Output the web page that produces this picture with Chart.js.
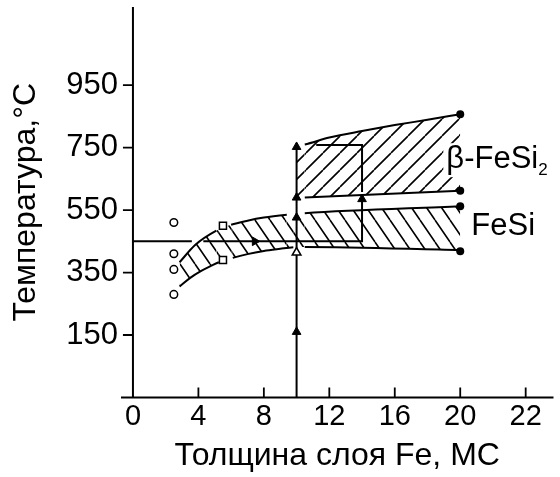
<!DOCTYPE html>
<html><head><meta charset="utf-8">
<script src="https://cdn.jsdelivr.net/npm/chart.js@4"></script>
<style>html,body{margin:0;padding:0;background:#fff}canvas{display:block}</style>
</head><body>
<canvas id="c" width="560" height="477"></canvas>
<script>
// ---------------- data ----------------
const xTickValues = [0, 4, 8, 12, 16, 20, 24];
const xTickLabels = ['0', '4', '8', '12', '16', '20', '22'];
const xAllTicks   = [0, 2, 4, 6, 8, 10, 12, 14, 16, 18, 20, 22, 24];
const yTickValues = [150, 350, 550, 750, 950];
const yTickLabels = ['150', '350', '550', '750', '950'];
const yAllTicks   = [50, 150, 250, 350, 450, 550, 650, 750, 850, 950, 1050];

// phase boundaries [thickness, temperature]
const fesiUpper = [[2.85,383],[3.8,438],[5.1,484],[6.0,503],[7.0,516],[8.0,526],[9.4,535],[10.5,540],[20,562]];
const fesiLower = [[2.85,305],[3.5,333],[4.2,356],[4.8,372],[5.25,383],[6.1,397],[7.0,409],[8.0,419],[9.0,426],[9.8,431],[10.5,432],[20,422]];
const betaUpper = [[10,755],[10.5,760],[12,782],[14,803],[16,822],[18,839],[20,857]];
const betaLower = [[10,589],[10.5,590],[20,612]];

// annealing paths
const vPath   = [[10,-50],[10,765]];
const hPath   = [[0,450],[3.6,450],[4.3,450],[14,450],[14,598]];
const boxPath = [[14,608],[14,758],[11.2,758]];

// markers
const arrowsUp    = [[10,160],[10,526],[10,590],[10,752],[14,585]];
const arrowsOpen  = [[10,414]];
const arrowsRight = [[7.45,450]];
const circlesOpen = [[2.5,510],[2.5,410],[2.5,360],[2.5,280]];
const squaresOpen = [[5.5,500],[5.5,390]];
const dotsFilled  = [[20,857],[20,612],[20,562],[20,418]];

const labelBeta = 'β-FeSi', labelBetaSub = '2', labelFeSi = 'FeSi';
const xTitle = 'Толщина слоя Fe, МС';
const yTitle = 'Температура,°C';

// ---------------- helpers ----------------
const F = "'Liberation Sans', Arial, Helvetica, sans-serif";
const pts = a => a.map(p => ({x: p[0], y: p[1]}));

function hatch(w, h, dir) {
  const c = document.createElement('canvas');
  c.width = w; c.height = h;
  const g = c.getContext('2d');
  g.strokeStyle = '#000'; g.lineWidth = 1.6;
  g.beginPath();
  for (const k of [-1, 0, 1]) {
    if (dir === 'down') { g.moveTo(k*w, 0); g.lineTo(k*w + w, h); }
    else { g.moveTo(k*w, h); g.lineTo(k*w + w, 0); }
  }
  g.stroke();
  return g.createPattern(c, 'repeat');
}
const gapSeg = gaps => ({
  borderColor: ctx => gaps.includes(ctx.p0.parsed.x) ? 'rgba(0,0,0,0)' : '#000'
});

const lineDs = (data, extra) => Object.assign({
  data: pts(data), showLine: true, borderColor: '#000', borderWidth: 2,
  pointRadius: 0, fill: false, tension: 0
}, extra || {});

const decor = {
  id: 'decor',
  afterDatasetsDraw(chart) {
    const {ctx, chartArea: a, scales: {x, y}} = chart;
    const x0 = x.getPixelForValue(0);
    ctx.save();
    ctx.strokeStyle = '#000';
    ctx.lineWidth = 2;
    ctx.beginPath();
    ctx.moveTo(a.left, a.bottom); ctx.lineTo(a.right, a.bottom);
    ctx.moveTo(x0, a.top); ctx.lineTo(x0, a.bottom + 1);
    ctx.stroke();
    ctx.lineWidth = 1.8;
    ctx.beginPath();
    y.ticks.forEach(t => {
      const py = y.getPixelForValue(t.value);
      const len = yTickValues.includes(t.value) ? 10 : 7;
      ctx.moveTo(x0 - len, py); ctx.lineTo(x0, py);
    });
    x.ticks.forEach(t => {
      if (t.value <= 0) return;
      const px = x.getPixelForValue(t.value);
      const len = xTickValues.includes(t.value) ? 10 : 6;
      ctx.moveTo(px, a.bottom); ctx.lineTo(px, a.bottom - len);
    });
    ctx.stroke();

    // region labels
    ctx.textAlign = 'left'; ctx.textBaseline = 'alphabetic';
    const bx = x.getPixelForValue(19.15), by = y.getPixelForValue(684);
    ctx.font = '31px ' + F; const w1 = ctx.measureText(labelBeta).width;
    ctx.font = '17px ' + F; const w2 = ctx.measureText(labelBetaSub).width;
    ctx.fillStyle = '#fff';
    ctx.fillRect(bx - 3, by - 25, w1 + w2 + 6, 34);
    ctx.fillStyle = '#000';
    ctx.font = '31px ' + F; ctx.fillText(labelBeta, bx, by);
    ctx.font = '17px ' + F; ctx.fillText(labelBetaSub, bx + w1, by + 7);
    ctx.font = '31px ' + F;
    ctx.fillText(labelFeSi, x.getPixelForValue(20.68), y.getPixelForValue(470));
    ctx.restore();
  }
};

new Chart(document.getElementById('c'), {
  type: 'scatter',
  data: {
    datasets: [
      {data: pts(dotsFilled), pointStyle: 'circle', pointRadius: 4, pointBackgroundColor: '#000', pointBorderWidth: 0},
      {data: pts(circlesOpen), pointStyle: 'circle', pointRadius: 3.8, pointBackgroundColor: '#fff', pointBorderColor: '#000', pointBorderWidth: 1.5},
      {data: pts(squaresOpen), pointStyle: 'rect', pointRadius: 5, pointBackgroundColor: '#fff', pointBorderColor: '#000', pointBorderWidth: 1.5},
      {data: pts(arrowsUp), pointStyle: 'triangle', pointRadius: 5, pointBackgroundColor: '#000', pointBorderColor: '#000', pointBorderWidth: 1},
      {data: pts(arrowsOpen), pointStyle: 'triangle', pointRadius: 5, pointBackgroundColor: '#fff', pointBorderColor: '#000', pointBorderWidth: 1.5},
      {data: pts(arrowsRight), pointStyle: 'triangle', pointRotation: 90, pointRadius: 5, pointBackgroundColor: '#000', pointBorderColor: '#000', pointBorderWidth: 1},
      lineDs(vPath),
      lineDs(hPath, {segment: gapSeg([3.6])}),
      lineDs(boxPath),
      lineDs(betaUpper, {cubicInterpolationMode: 'monotone', fill: '+1', backgroundColor: hatch(17, 17, 'up'), segment: gapSeg([10])}),
      lineDs(betaLower, {segment: gapSeg([10])}),
      lineDs(fesiUpper, {cubicInterpolationMode: 'monotone', fill: '+1', backgroundColor: hatch(15, 22, 'down'), segment: gapSeg([5.1, 9.4])}),
      lineDs(fesiLower, {cubicInterpolationMode: 'monotone', segment: gapSeg([5.25, 9.8])})
    ]
  },
  options: {
    responsive: false,
    animation: false,
    events: [],
    devicePixelRatio: 1,
    layout: {padding: {top: 7, right: 5, left: 0, bottom: 0}},
    plugins: {legend: {display: false}, tooltip: {enabled: false}},
    scales: {
      x: {
        type: 'linear', min: -0.73, max: 25.7,
        afterBuildTicks: s => { s.ticks = xAllTicks.map(v => ({value: v})); },
        afterFit: s => { s.height = 79.5; s.paddingLeft = 0; s.paddingRight = 0; },
        grid: {display: false, drawTicks: false},
        border: {display: false},
        ticks: {
          autoSkip: false, maxRotation: 0, padding: 2, color: '#000',
          font: {family: F, size: 29},
          callback: v => { const i = xTickValues.indexOf(v); return i >= 0 ? xTickLabels[i] : null; }
        },
        title: {display: true, text: xTitle, color: '#000', font: {family: F, size: 32}, padding: {top: 0, bottom: 2}}
      },
      y: {
        type: 'linear', min: -50, max: 1200,
        afterBuildTicks: s => { s.ticks = yAllTicks.map(v => ({value: v})); },
        afterFit: s => { s.width = 121; s.paddingTop = 0; s.paddingBottom = 0; },
        grid: {display: false, drawTicks: false},
        border: {display: false},
        ticks: {
          autoSkip: false, padding: 3, color: '#000',
          font: {family: F, size: 31},
          callback: v => { const i = yTickValues.indexOf(v); return i >= 0 ? yTickLabels[i] : null; }
        },
        title: {display: true, text: yTitle, color: '#000', font: {family: F, size: 32}, padding: {top: 7, bottom: 0}}
      }
    }
  },
  plugins: [decor]
});
</script>
</body></html>
